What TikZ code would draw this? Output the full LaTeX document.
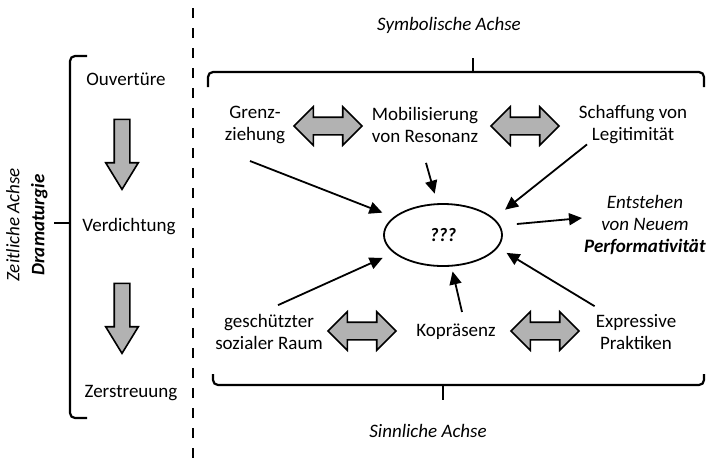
\documentclass[tikz,border=0pt]{standalone}
\usepackage{fontspec}
\setmainfont{Carlito}
\usetikzlibrary{arrows.meta,shapes.arrows,shapes.geometric}
\definecolor{arrowgray}{gray}{0.7}
\begin{document}
\begin{tikzpicture}[
  x=1pt, y=-1pt,
  every node/.style = {font=\fontsize{19}{22}\selectfont, align=center, inner sep=2pt},
  flow/.style = {-{Triangle[length=13pt,width=12pt]}, line width=1.8pt},
  brace/.style = {line width=2.2pt, rounded corners=5pt},
  twoway/.style = {double arrow, draw, line width=1.6pt, fill=arrowgray,
    minimum height=68pt, inner xsep=0pt, inner ysep=8pt,
    double arrow head extend=10.5pt},
  oneway/.style = {single arrow, draw, line width=1.6pt, fill=arrowgray,
    rotate=-90, minimum height=70pt, inner xsep=0pt, inner ysep=7pt,
    single arrow head extend=8.5pt, single arrow tip angle=63}
  ]
  \useasboundingbox (0,0) rectangle (707,459);
  % time axis
  \draw[line width=2.2pt, dash pattern=on 10pt off 10pt] (193,8) -- (193,459);
  \node[rotate=90, font=\fontsize{19}{25}\selectfont] (zeit) at (27,225)
    {\textit{Zeitliche Achse}\\ \textbf{\textit{Dramaturgie}}};
  \draw[brace] (87,56) -- (70,56) -- (70,418) -- (87,418);
  \draw[line width=2.2pt] (70,223) -- (54,223);
  \node (ouv)  at (126,79)  {Ouvertüre};
  \node (verd) at (129,227) {Verdichtung};
  \node (zer)  at (131,393) {Zerstreuung};
  \node[oneway] (down1) at (122,148) {};
  \node[oneway] (down2) at (122,312) {};
  % axes
  \node (symb) at (449,25) {\textit{Symbolische Achse}};
  \draw[brace] (208,87) -- (208,72) -- (704,72) -- (704,87);
  \draw[line width=2.2pt] (473,72) -- (473,58);
  \node (sinn) at (428,431) {\textit{Sinnliche Achse}};
  \draw[brace] (213,374) -- (213,385) -- (704,385) -- (704,374);
  \draw[line width=2.2pt] (443,385) -- (443,400);
  % top row
  \node (grenz)  at (255,125) {Grenz-\\ziehung};
  \node (mob)    at (425,125) {Mobilisierung\\von Resonanz};
  \node (schaff) at (633,125) {Schaffung von\\Legitimität};
  \node[twoway] (tw1) at (328,126) {};
  \node[twoway] (tw2) at (525,126) {};
  % bottom row
  \node (gesch) at (269,332) {geschützter\\sozialer Raum};
  \node (kop)   at (456,332) {Kopräsenz};
  \node (expr)  at (636,332) {Expressive\\Praktiken};
  \node[twoway] (tw3) at (362,331) {};
  \node[twoway] (tw4) at (545,331) {};
  % centre
  \node[ellipse, draw, line width=1.8pt, minimum width=118pt, minimum height=62pt]
    (q) at (443,235) {\textbf{\textit{???}}};
  \node (entst) at (645,225)
    {\textit{Entstehen}\\ \textit{von Neuem}\\ \textbf{\textit{Performativität}}};
  \draw[flow, shorten >=12pt] ([xshift=-5pt,yshift=-15pt]grenz.south) -- (q.160);
  \draw[flow, shorten >=10pt] ([xshift=1pt,yshift=-18pt]mob.south) -- (q.100);
  \draw[flow, shorten >=14pt] ([xshift=-46pt,yshift=2pt]schaff.south) -- (q.18);
  \draw[flow] ([xshift=14pt,yshift=11pt]q.east) -- ([yshift=7pt]entst.west);
  \draw[flow, shorten >=12pt] ([xshift=9pt,yshift=7pt]gesch.north) -- (q.200);
  \draw[flow, shorten >=5pt] ([xshift=6pt,yshift=10pt]kop.north) -- (q.285);
  \draw[flow, shorten >=10pt] ([xshift=1pt,yshift=6pt]expr.north west) -- (q.347);
\end{tikzpicture}
\end{document}
